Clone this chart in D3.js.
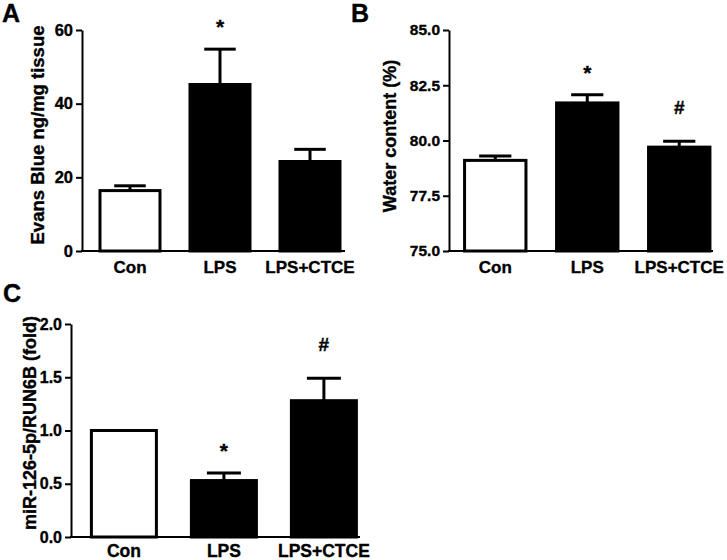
<!DOCTYPE html>
<html lang="en">

<head>
  <meta charset="UTF-8">
  <title>Evans Blue / Water content / miR-126-5p</title>
  <script src="https://d3js.org/d3.v7.min.js"></script>
  <style>
    body {
      margin: 0;
      padding: 0;
      background: #fff;
    }

    svg text {
      font-family: "Liberation Sans", Arial, Helvetica, sans-serif;
      font-weight: bold;
      fill: #000;
      stroke: #000;
      stroke-width: 0.35px;
    }
  </style>
</head>

<body>
  <svg id="fig"></svg>
  <script>
    // data
    const groups = ["Con", "LPS", "LPS+CTCE"];

    const evansMean = [16.4, 45.2, 24.3];
    const evansErr = [1.3, 9.6, 3.3];
    const evansMarks = ["", "*", ""];
    const evansTicks = [0, 20, 40, 60];

    const waterMean = [79.1, 81.7, 79.7];
    const waterErr = [0.2, 0.37, 0.27];
    const waterMarks = ["", "*", "#"];
    const waterTicks = [75, 77.5, 80, 82.5, 85];

    const mirMean = [1.0, 0.53, 1.28];
    const mirErr = [0, 0.07, 0.21];
    const mirMarks = ["", "*", "#"];
    const mirTicks = [0, 0.5, 1.0, 1.5, 2.0];

    const width = 727;
    const height = 560;
    const fills = ["#fff", "#000", "#000"];

    const svg = d3.select("#fig")
      .attr("width", width)
      .attr("height", height);

    function drawPanel(p) {
      const g = svg.append("g");

      const x = d3.scaleBand()
        .domain(groups)
        .range([p.left, p.right])
        .paddingInner(p.padIn)
        .paddingOuter(p.padOut)
        .align(p.align);

      const y = d3.scaleLinear()
        .domain(p.domain)
        .range([p.bottom, p.top]);

      const rows = groups.map((name, i) => ({
        name: name,
        mean: p.mean[i],
        err: p.err[i],
        mark: p.marks[i],
        fill: fills[i]
      }));

      // bars
      g.selectAll("rect.bar")
        .data(rows)
        .join("rect")
        .attr("class", "bar")
        .attr("x", d => x(d.name) + 1.5)
        .attr("width", x.bandwidth() - 3)
        .attr("y", d => y(d.mean))
        .attr("height", d => p.bottom - y(d.mean))
        .attr("fill", d => d.fill)
        .attr("stroke", "#000")
        .attr("stroke-width", 3);

      // upper error bars
      const eb = rows.filter(d => d.err > 0);
      g.selectAll("line.err")
        .data(eb)
        .join("line")
        .attr("class", "err")
        .attr("x1", d => x(d.name) + x.bandwidth() / 2)
        .attr("x2", d => x(d.name) + x.bandwidth() / 2)
        .attr("y1", d => y(d.mean))
        .attr("y2", d => y(d.mean + d.err))
        .attr("stroke", "#000")
        .attr("stroke-width", 3);

      g.selectAll("line.cap")
        .data(eb)
        .join("line")
        .attr("class", "cap")
        .attr("x1", d => x(d.name) + x.bandwidth() / 4)
        .attr("x2", d => x(d.name) + x.bandwidth() * 3 / 4)
        .attr("y1", d => y(d.mean + d.err))
        .attr("y2", d => y(d.mean + d.err))
        .attr("stroke", "#000")
        .attr("stroke-width", 3);

      // significance marks
      g.selectAll("text.mark")
        .data(rows.filter(d => d.mark))
        .join("text")
        .attr("class", "mark")
        .attr("x", d => x(d.name) + x.bandwidth() / 2)
        .attr("y", d => y(d.mean + d.err) - (d.mark === "#" ? 27 : 15))
        .attr("text-anchor", "middle")
        .attr("font-size", d => d.mark === "#" ? 19 : 21)
        .text(d => d.mark);

      // y axis
      const yAxis = g.append("g")
        .attr("transform", `translate(${p.left},0)`)
        .call(d3.axisLeft(y)
          .tickValues(p.ticks)
          .tickFormat(p.fmt)
          .tickSize(6)
          .tickSizeOuter(0)
          .tickPadding(3));
      yAxis.selectAll("path, line").attr("stroke", "#000").attr("stroke-width", 2);
      yAxis.selectAll("text").attr("font-size", p.tickSize).attr("font-family", null);

      // x axis
      const xAxis = g.append("g")
        .attr("transform", `translate(0,${p.bottom})`)
        .call(d3.axisBottom(x).tickSize(0).tickSizeOuter(0).tickPadding(p.labPad));
      xAxis.select(".domain").attr("stroke", "#000").attr("stroke-width", 2)
        .attr("d", `M${p.left - 1},0H${p.right}`);
      xAxis.selectAll("text").attr("font-size", p.labSize).attr("font-family", null);

      // y title
      g.append("text")
        .attr("transform", `translate(${p.titleX},${p.titleY}) rotate(-90)`)
        .attr("text-anchor", "middle")
        .attr("font-size", p.titleSize)
        .text(p.title);

      // panel letter
      g.append("text")
        .attr("x", p.letterX)
        .attr("y", p.letterY)
        .attr("font-size", 25)
        .text(p.letter);
    }

    drawPanel({
      letter: "A", letterX: 2, letterY: 22,
      title: "Evans Blue ng/mg tissue", titleX: 44, titleY: 135, titleSize: 18.5,
      mean: evansMean, err: evansErr, marks: evansMarks,
      domain: [0, 60], ticks: evansTicks, fmt: d3.format("d"),
      left: 82, right: 345, top: 30, bottom: 251,
      padIn: 0.3, padOut: 0.111, align: 0.825,
      labPad: 10, labSize: 17, tickSize: 16.5
    });

    drawPanel({
      letter: "B", letterX: 351, letterY: 22,
      title: "Water content (%)", titleX: 396, titleY: 136, titleSize: 18,
      mean: waterMean, err: waterErr, marks: waterMarks,
      domain: [75, 85], ticks: waterTicks, fmt: d3.format(".1f"),
      left: 449, right: 713, top: 30, bottom: 251,
      padIn: 0.3, padOut: 0.085, align: 0.9,
      labPad: 10, labSize: 17, tickSize: 15.5
    });

    drawPanel({
      letter: "C", letterX: 3, letterY: 302,
      title: "miR-126-5p/RUN6B (fold)", titleX: 36, titleY: 423, titleSize: 18,
      mean: mirMean, err: mirErr, marks: mirMarks,
      domain: [0, 2], ticks: mirTicks, fmt: d3.format(".1f"),
      left: 71, right: 360, top: 324, bottom: 537,
      padIn: 0.32, padOut: 0.105, align: 0.9,
      labPad: 8, labSize: 17.5, tickSize: 16
    });
  </script>
</body>

</html>
